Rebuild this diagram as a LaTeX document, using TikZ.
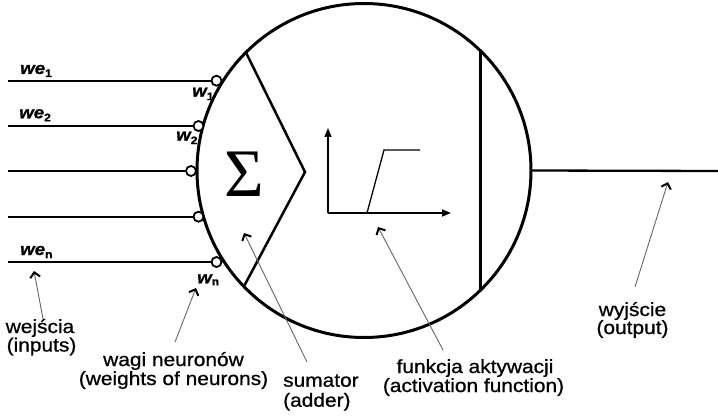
\documentclass[tikz,border=0pt]{standalone}
\usepackage{fontspec}
\setmainfont{Liberation Sans}[FakeStretch=1.1, FakeBold=0.8]
\newfontfamily\sigmafont{Liberation Serif}
\usetikzlibrary{arrows.meta}
\begin{document}
\begin{tikzpicture}[x=1pt,y=-1pt,
  thickline/.style={line width=2.3pt},
  wdot/.style={circle, draw, line width=1.8pt, fill=white, minimum size=10pt, inner sep=0pt},
  lbl/.style={font=\fontsize{19}{19}\selectfont, inner sep=0pt, anchor=base},
  wlbl/.style={font=\fontsize{17}{17}\selectfont\bfseries\itshape, inner sep=0pt, anchor=base west},
  ann/.style={draw=black!60, line width=0.9pt, -{Straight Barb[length=5pt,width=10pt,line width=2pt,color=black]}},
  axisline/.style={line width=1.5pt, -{Triangle[length=9pt,width=7pt]}}
]
\useasboundingbox (0,0) rectangle (718,417);
% neuron body
\node[circle, draw, line width=3pt, minimum size=334pt, inner sep=0pt, outer sep=0pt] (neuron) at (364,170.5) {};
% adder chevron
\coordinate (apex) at (305,172);
\draw[line width=2.5pt, line join=miter] (neuron.135) -- (apex) -- (neuron.224);
% vertical bar
\draw[line width=3pt] (neuron.46) -- (neuron.-46);
% sigma
\node[font=\sigmafont\fontsize{68}{68}\selectfont, inner sep=0pt] (sigma) at (244,174.5) {Σ};
% activation function graph
\coordinate (O) at (328,213);
\coordinate (yT) at (328,128);
\coordinate (xT) at (451,213);
\coordinate (f1) at (367,213);
\coordinate (f2) at (384,150);
\coordinate (f3) at (420,150);
\draw[axisline] (O) -- (yT);
\draw[axisline] (O) -- (xT);
\draw[line width=1.3pt] (O) -- (f1) -- (f2) -- (f3);
% output
\coordinate (out) at (718,171);
\draw[thickline] (neuron.east) -- (out);
% inputs
\foreach \i/\x/\y in {1/216.5/80.7, 2/198.5/126, 3/191/171, 4/198.5/216.7, 5/216.5/262} {
  \coordinate (in\i) at (8,\y);
  \node[wdot] (d\i) at (\x,\y) {};
  \draw[thickline] (in\i) -- (d\i);
}
% input labels
\node[wlbl] (we1) at (20,74) {we\raisebox{-3pt}{\fontsize{11}{11}\selectfont\upshape 1}};
\node[wlbl] (we2) at (19,118.3) {we\raisebox{-3pt}{\fontsize{11}{11}\selectfont\upshape 2}};
\node[wlbl] (wen) at (20,255) {we\raisebox{-3pt}{\fontsize{11}{11}\selectfont\upshape n}};
\node[wlbl] (w1) at (192,96.7) {w\raisebox{-3.5pt}{\fontsize{11}{11}\selectfont\upshape 1}};
\node[wlbl] (w2) at (176,140.7) {w\raisebox{-3.5pt}{\fontsize{11}{11}\selectfont\upshape 2}};
\node[wlbl] (wn) at (197,283.3) {w\raisebox{-2pt}{\fontsize{11}{11}\selectfont\upshape n}};
% annotation labels
\node[lbl] (l1a) at (40,333) {wejścia};
\node[lbl] (l1b) at (41.5,351.5) {(inputs)};
\node[lbl] (l2a) at (173.5,366) {wagi neuronów};
\node[lbl] (l2b) at (173.5,385) {(weights of neurons)};
\node[lbl, anchor=base west] (l3a) at (283,386.7) {sumator};
\node[lbl, anchor=base west] (l3b) at (283,406.7) {(adder)};
\node[lbl] (l4a) at (475,373) {funkcja aktywacji};
\node[lbl] (l4b) at (473.5,392) {(activation function)};
\node[lbl] (l5a) at (632.5,316) {wyjście};
\node[lbl] (l5b) at (632.5,334) {(output)};
% annotation arrows
\coordinate (a1s) at (43,319);  \coordinate (a1e) at (34,271);
\coordinate (a2s) at (175,342); \coordinate (a2e) at (196,288);
\coordinate (a3s) at (307,362); \coordinate (a3e) at (244,233);
\coordinate (a4s) at (443,350); \coordinate (a4e) at (378,227);
\coordinate (a5s) at (635,287); \coordinate (a5e) at (668,182);
\draw[ann] (a1s) -- (a1e);
\draw[ann] (a2s) -- (a2e);
\draw[ann] (a3s) -- (a3e);
\draw[ann] (a4s) -- (a4e);
\draw[ann] (a5s) -- (a5e);
\end{tikzpicture}
\end{document}
